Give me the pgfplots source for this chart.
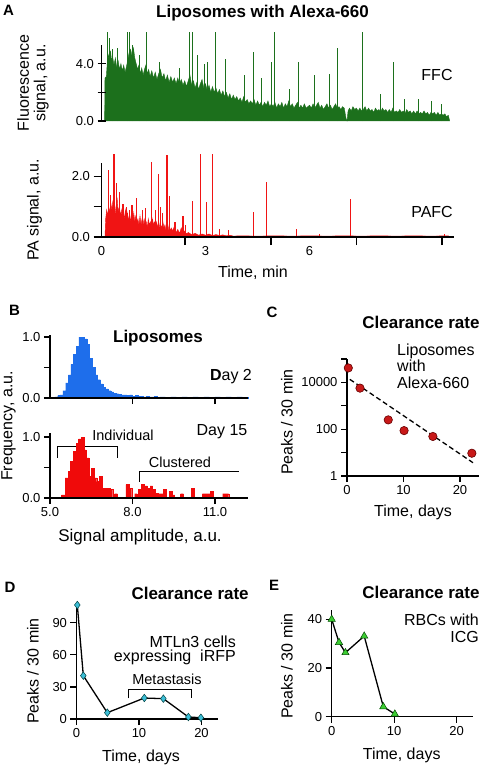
\documentclass[border=0pt]{standalone}
\usepackage{fontspec}
\setmainfont{Liberation Sans}
\usepackage{pgfplots}
\pgfplotsset{compat=1.18}
\definecolor{ffc}{RGB}{28,112,28}
\definecolor{pafc}{RGB}{240,20,20}
\definecolor{hblue}{RGB}{30,110,235}
\definecolor{hred}{RGB}{240,10,10}
\definecolor{cred}{RGB}{200,25,25}
\definecolor{dcyan}{RGB}{60,190,215}
\definecolor{egreen}{RGB}{60,205,50}
\newcommand\fT{\fontsize{13}{15}\selectfont}
\newcommand\fL{\fontsize{16}{18}\selectfont}
\newcommand\fS{\fontsize{14.5}{16}\selectfont}
\newcommand\fB{\fontsize{17}{19}\selectfont\bfseries}
\newcommand\fP{\fontsize{15}{17}\selectfont\bfseries}
\pgfplotsset{base/.style={scale only axis, anchor=south west, axis lines=left,
  axis line style={-, line width=1.4pt, black}, tick style={line width=1.3pt, black},
  tick align=outside, major tick length=6pt, tick label style={font=\fT},
  /pgf/number format/assume math mode=true, enlargelimits=false, clip=false,
  axis on top, minor tick num=0}}
\begin{document}
\begin{tikzpicture}[x=1pt,y=1pt]
\useasboundingbox (0,0) rectangle (480,-766);
% ---------------- Panel A: FFC
\begin{axis}[base, at={(101.5pt,-121pt)}, width=352pt, height=76pt,
  xmin=0, xmax=10.15, ymin=0, ymax=5.3, axis x line=none, axis y line=left,
  y axis line style={-}, every outer y axis line/.append style={-},
  ytick={0,2,4}, yticklabels={0.0,,4.0}, major tick length=8pt]
\addplot[fill=ffc, draw=ffc, line width=0.4pt] coordinates {
(0.09,0) (0.10,3.0) (0.14,3.1) (0.17,4.2) (0.20,4.6) (0.23,4.0) (0.26,4.9) (0.29,4.2) (0.32,4.5) (0.36,3.9)
(0.40,4.4) (0.44,3.7) (0.48,4.2) (0.52,3.6) (0.56,4.0) (0.60,3.5) (0.64,3.9) (0.68,3.4) (0.72,3.8) (0.76,4.3)
(0.80,4.8) (0.84,5.0) (0.88,4.5) (0.92,5.1) (0.96,4.4) (1.00,4.0) (1.04,3.6) (1.08,3.9) (1.12,3.3) (1.16,3.7)
(1.20,3.2) (1.24,3.6) (1.28,3.9) (1.32,3.3) (1.36,3.6) (1.40,3.1) (1.45,3.5) (1.50,3.0) (1.55,3.4) (1.60,2.9)
(1.65,3.3) (1.70,3.6) (1.75,3.0) (1.80,3.3) (1.85,2.8) (1.90,3.2) (1.95,2.7) (2.00,3.1) (2.05,2.7) (2.10,3.0)
(2.15,2.6) (2.20,3.0) (2.25,2.6) (2.30,2.9) (2.35,2.5) (2.40,2.8) (2.45,2.4) (2.50,2.8) (2.55,3.2) (2.60,2.5)
(2.65,2.8) (2.70,2.3) (2.75,2.7) (2.80,2.2) (2.85,2.6) (2.90,2.9) (2.95,2.3) (3.00,2.6) (3.05,2.1) (3.10,2.5)
(3.15,2.0) (3.20,2.4) (3.25,2.0) (3.30,2.3) (3.35,1.9) (3.40,2.2) (3.45,1.8) (3.50,2.1) (3.55,1.7) (3.60,2.0)
(3.65,1.6) (3.70,1.9) (3.75,1.5) (3.80,1.8) (3.85,1.5) (3.90,1.7) (3.95,1.4) (4.00,1.6) (4.05,1.3) (4.10,1.7)
(4.15,1.3) (4.20,1.5) (4.25,1.2) (4.30,1.4) (4.35,1.2) (4.40,1.5) (4.45,1.1) (4.50,1.4) (4.55,1.1) (4.60,1.3)
(4.65,1.0) (4.70,1.3) (4.75,1.1) (4.80,1.4) (4.85,1.0) (4.90,1.2) (4.95,1.0) (5.00,1.3) (5.05,0.9) (5.10,1.2)
(5.15,1.0) (5.20,1.3) (5.25,0.9) (5.30,1.2) (5.35,1.0) (5.40,1.4) (5.45,1.0) (5.50,1.2) (5.55,0.9) (5.60,1.1)
(5.65,1.3) (5.70,0.9) (5.75,1.1) (5.80,0.9) (5.85,1.2) (5.90,0.9) (5.95,1.0) (6.00,1.1) (6.05,0.9) (6.10,1.2)
(6.15,0.9) (6.20,1.1) (6.25,1.3) (6.30,0.9) (6.35,1.1) (6.40,0.8) (6.45,1.0) (6.50,1.2) (6.55,0.9) (6.60,1.1)
(6.65,0.8) (6.70,1.0) (6.75,1.2) (6.80,0.9) (6.85,1.0) (6.90,0.8) (6.95,1.0) (7.00,0.9) (7.05,0.2) (7.08,0.0)
(7.11,0.7) (7.15,0.9) (7.20,0.7) (7.25,1.0) (7.30,0.8) (7.35,0.9) (7.40,0.7) (7.45,0.9) (7.50,0.7) (7.55,0.8)
(7.60,1.0) (7.65,0.7) (7.70,0.9) (7.75,0.7) (7.80,0.8) (7.85,0.6) (7.90,0.9) (7.95,0.7) (8.00,0.8) (8.05,0.6)
(8.10,0.9) (8.15,0.7) (8.20,0.8) (8.25,0.6) (8.30,0.8) (8.35,0.6) (8.40,0.9) (8.45,0.6) (8.50,0.7) (8.55,0.6)
(8.60,0.8) (8.65,0.6) (8.70,0.7) (8.75,0.5) (8.80,0.8) (8.85,0.6) (8.90,0.7) (8.95,0.5) (9.00,0.7) (9.05,0.5)
(9.10,0.7) (9.15,0.5) (9.20,0.6) (9.25,0.5) (9.30,0.7) (9.35,0.5) (9.40,0.6) (9.45,0.4) (9.50,0.6) (9.55,0.5)
(9.60,0.6) (9.65,0.4) (9.70,0.6) (9.75,0.4) (9.80,0.5) (9.85,0.4) (9.90,0.5) (9.95,0.3) (10.00,0.4) (10.04,0)};
\addplot[ycomb, ffc, line width=1.1pt] coordinates {
(0.17,6.2) (0.23,5.8) (0.32,5.0) (0.46,5.1) (0.75,6.2) (0.81,6.2) (0.89,5.3) (1.10,4.6) (1.30,6.2)
(1.67,4.1) (2.25,3.7) (2.54,6.2) (2.62,6.2) (2.77,4.6) (2.97,4.0) (3.06,4.1) (3.29,6.2) (3.58,4.3)
(4.12,3.2) (4.38,4.8) (4.61,3.0) (4.90,4.1) (4.99,6.2) (5.42,2.2) (5.68,4.1) (6.14,3.2) (6.58,3.3)
(6.81,5.1) (7.53,6.2) (8.05,1.9) (8.42,4.1) (8.74,1.5) (9.14,1.5) (9.52,1.4) (9.81,1.2)};
\end{axis}
% ---------------- Panel A: PAFC
\begin{axis}[base, at={(101.5pt,-237pt)}, width=352pt, height=74pt,
  xmin=0, xmax=10.15, ymin=0, ymax=2.44, ytick={0,1,2}, yticklabels={0.0,,2.0},
  xtick={2.41,4.89,7.35,9.82}, xticklabels={,,,}, major tick length=8pt,
  extra x ticks={0,3,6}, extra x tick labels={0,3,6},
  extra x tick style={major tick length=0pt, xticklabel style={yshift=-6pt}}]
\addplot[fill=pafc, draw=pafc, line width=0.4pt] coordinates {
(0.10,0) (0.12,0.6) (0.15,0.9) (0.18,0.7) (0.21,1.0) (0.24,0.8) (0.27,1.1) (0.30,0.9) (0.33,1.2) (0.36,0.8)
(0.39,1.0) (0.42,0.7) (0.45,1.3) (0.48,0.8) (0.51,1.0) (0.54,0.7) (0.57,0.9) (0.60,0.6) (0.63,0.8) (0.66,0.6)
(0.69,0.9) (0.72,0.6) (0.75,0.8) (0.78,0.5) (0.81,0.8) (0.84,0.5) (0.87,0.7) (0.90,0.5) (0.93,0.8) (0.96,0.5)
(0.99,0.7) (1.02,0.5) (1.05,0.6) (1.08,0.4) (1.11,0.7) (1.14,0.4) (1.17,0.6) (1.20,0.4) (1.23,0.6) (1.26,0.4)
(1.29,0.5) (1.32,0.3) (1.35,0.6) (1.38,0.4) (1.41,0.5) (1.44,0.3) (1.47,0.6) (1.50,0.4) (1.53,0.5) (1.56,0.3)
(1.59,0.5) (1.62,0.3) (1.65,0.5) (1.68,0.3) (1.71,0.4) (1.74,0.3) (1.77,0.5) (1.80,0.3) (1.83,0.4) (1.86,0.2)
(1.89,0.4) (1.92,0.2) (1.95,0.4) (1.98,0.2) (2.01,0.3) (2.05,0.2) (2.10,0.35) (2.15,0.15) (2.20,0.25) (2.25,0.12)
(2.30,0.3) (2.35,0.12) (2.40,0.2) (2.45,0.1) (2.50,0.15) (2.60,0.08) (2.70,0.12) (2.80,0.06) (2.90,0.1) (3.00,0.06)
(3.10,0.1) (3.20,0.05) (3.30,0.08) (3.40,0.05) (3.50,0.07) (3.60,0.04) (3.70,0.06) (3.80,0.03) (4.00,0.04) (4.50,0.03)
(5.00,0.04) (5.50,0.03) (6.00,0.04) (6.50,0.03) (7.00,0.04) (7.50,0.03) (8.00,0.04) (8.50,0.03) (9.00,0.04) (9.50,0.03)
(10.00,0.04) (10.04,0)};
\addplot[ycomb, pafc, line width=1.1pt] coordinates {
(0.19,2.22) (0.26,1.4) (0.36,2.74) (0.42,1.78) (0.53,1.5) (0.62,1.1) (0.71,1.0) (0.80,0.9) (0.88,1.05)
(1.02,1.29) (1.17,0.9) (1.26,0.95) (1.45,2.46) (1.55,0.9) (1.64,2.08) (1.70,1.0) (1.75,0.8) (1.89,2.71)
(1.96,1.34) (2.12,0.48) (2.35,0.7) (2.41,0.4) (2.63,1.18) (2.86,2.74) (3.02,1.14) (3.21,2.74) (3.40,0.26)
(3.67,0.24) (4.39,0.81) (4.75,1.8) (5.62,0.26) (6.29,0.1) (7.18,1.26) (9.89,0.1)};
\end{axis}
\node[font=\fP] at (8.5,-10) {A};
\node[font=\fB] at (262.5,-13) {Liposomes with Alexa-660};
\node[font=\fontsize{16}{16.5}\selectfont, rotate=90, align=center] at (33,-83) {Fluorescence\\signal, a.u.};
\node[font=\fL] at (437,-75) {FFC};
\node[font=\fL, rotate=90] at (34.5,-210) {PA signal, a.u.};
\node[font=\fL] at (432,-212) {PAFC};
\node[font=\fL] at (253,-273) {Time, min};
% ---------------- Panel B top
\begin{axis}[base, at={(50pt,-398pt)}, width=198pt, height=63pt,
  xmin=5, xmax=12.2, ymin=0, ymax=1.033, ytick={0,0.5,1}, yticklabels={0.0,,1.0},
  xtick={8,11}, xticklabels={,}]
\addplot[const plot, fill=hblue, draw=hblue, line width=0.3pt] coordinates {
(5.18,0.02) (5.28,0.04) (5.37,0.05) (5.47,0.12) (5.57,0.25) (5.67,0.38) (5.76,0.55) (5.86,0.72) (5.96,0.85)
(6.05,1.0) (6.15,1.0) (6.25,0.97) (6.34,0.88) (6.44,0.65) (6.54,0.50) (6.63,0.38) (6.73,0.30) (6.83,0.23)
(6.92,0.18) (7.02,0.15) (7.12,0.12) (7.21,0.10) (7.31,0.08) (7.41,0.07) (7.50,0.06) (7.60,0.05) (7.70,0.05)
(7.80,0.04) (7.90,0.05) (8.00,0.03) (8.10,0.04) (8.20,0.03) (8.30,0.03) (8.40,0.02) (8.50,0.03) (8.60,0.02)
(8.70,0.02) (8.80,0.03) (8.90,0.01) (9.00,0.02) (9.20,0.01) (9.40,0.02) (9.60,0.01) (9.80,0.02) (10.00,0.01)
(10.20,0.02) (10.40,0.01) (10.60,0.02) (10.80,0.01) (11.00,0.02) (11.20,0.01) (11.40,0.02) (11.60,0.01)
(11.80,0.02) (12.00,0.01) (12.20,0)} \closedcycle;
\end{axis}
% ---------------- Panel B bottom
\begin{axis}[base, at={(50pt,-498pt)}, width=198pt, height=65pt,
  xmin=5, xmax=12.2, ymin=0, ymax=1.066, ytick={0,0.5,1}, yticklabels={0.0,,1.0},
  xtick={5,8,11}, xticklabels={5.0,8.0,11.0}]
\draw[line width=1.3pt] (axis cs:5.27,0.66) -- (axis cs:5.27,0.84) -- (axis cs:7.45,0.84) -- (axis cs:7.45,0.66);
\draw[line width=1.3pt] (axis cs:8.25,0.27) -- (axis cs:8.25,0.43) -- (axis cs:11.88,0.43);
\addplot[const plot, fill=hred, draw=hred, line width=0.3pt] coordinates {
(5.42,0.05) (5.55,0.33) (5.67,0.44) (5.75,0.6) (5.85,0.77) (5.95,0.9) (6.04,0.97) (6.14,1.0) (6.24,0.79)
(6.31,0.66) (6.41,0.36) (6.50,0.49) (6.60,0.33) (6.70,0.27) (6.79,0.36) (6.89,0.16) (7.18,0.14) (7.28,0)
(7.35,0.07) (7.45,0) (7.76,0.22) (7.88,0.16) (7.97,0) (8.08,0.07) (8.17,0) (8.22,0.14) (8.32,0.22)
(8.44,0.2) (8.54,0.16) (8.64,0.2) (8.73,0.14) (8.83,0.08) (8.93,0.07) (9.12,0.14) (9.24,0) (9.34,0.11)
(9.44,0.05) (9.53,0) (9.75,0.07) (9.85,0) (10.15,0.16) (10.25,0) (10.54,0.07) (10.82,0.11) (10.92,0)
(11.28,0.07) (11.50,0)} \closedcycle;
\end{axis}
\node[font=\fP] at (14.5,-310) {B};
\node[font=\fB] at (158,-338) {Liposomes};
\node[font=\fL] at (231,-377) {\textbf{D}ay 2};
\node[font=\fL, rotate=90] at (8.5,-426) {Frequency, a.u.};
\node[font=\fL] at (222,-432) {Day 15};
\node[font=\fS] at (123,-435) {Individual};
\node[font=\fS] at (180,-462) {Clustered};
\node[font=\fontsize{17}{19}\selectfont] at (140,-537) {Signal amplitude, a.u.};
% ---------------- Panel C
\begin{axis}[base, at={(347pt,-476pt)}, width=132.2pt, height=117pt,
  xmin=0, xmax=23.4, ymode=log, ymin=1, ymax=100000,
  ytick={1,10,100,1000,10000,100000}, yticklabels={1,,100,,10000,}, yminorticks=false,
  xtick={0,10,20}, xticklabels={0,10,20}]
\addplot[black, line width=1.3pt, dash pattern=on 5pt off 3pt] coordinates {(0.5,13500) (22.3,3.7)};
\addplot[only marks, mark=*, mark size=4.2pt, mark options={fill=cred, draw=red!40!black, line width=0.6pt}]
  coordinates {(0.23,41500) (2.3,5700) (7.3,250) (10.1,87) (15.2,49) (22.1,9.4)};
\end{axis}
\node[font=\fP] at (272,-312) {C};
\node[font=\fB] at (421,-322) {Clearance rate};
\node[font=\fL, anchor=base west, inner sep=0pt] at (397,-355) {Liposomes};
\node[font=\fL, anchor=base west, inner sep=0pt] at (397,-371.5) {with};
\node[font=\fL, anchor=base west, inner sep=0pt] at (397,-388) {Alexa-660};
\node[font=\fL, rotate=90] at (287,-422) {Peaks / 30 min};
\node[font=\fL] at (413,-512) {Time, days};
% ---------------- Panel D
\begin{axis}[base, at={(76.5pt,-719pt)}, width=141.25pt, height=115.6pt,
  xmin=0, xmax=22.6, ymin=0, ymax=108, ytick={0,30,60,90}, xtick={0,10,20}]
\draw[line width=1.3pt] (axis cs:8.29,19.3) -- (axis cs:8.29,27.8) -- (axis cs:18.43,27.8) -- (axis cs:18.43,19.3);
\addplot[black, line width=1.3pt, mark=diamond*, mark size=3.8pt, mark options={fill=dcyan, draw=teal!50!black, line width=0.5pt}]
  coordinates {(0.13,106.5) (1.09,40.5) (4.93,5.9) (10.85,19.6) (13.9,19) (17.9,1.9) (19.9,1.2)};
\end{axis}
\node[font=\fP] at (10,-587) {D};
\node[font=\fB, anchor=west] at (128,-593) {Clearance rate};
\node[font=\fL, anchor=base east, inner sep=0pt] at (236,-647) {MTLn3 cells};
\node[font=\fL, anchor=base east, inner sep=0pt] at (236,-661.5) {expressing\ \ iRFP};
\node[font=\fS] at (167,-679) {Metastasis};
\node[font=\fL, rotate=90] at (33,-671) {Peaks / 30 min};
\node[font=\fL] at (141,-757) {Time, days};
% ---------------- Panel E
\begin{axis}[base, at={(331.7pt,-716.7pt)}, width=141.25pt, height=106.7pt,
  xmin=0, xmax=22.6, ymin=0, ymax=43.8, ytick={0,20,40}, xtick={0,10,20}]
\addplot[black, line width=1.3pt, mark=triangle*, mark size=4.2pt, mark options={fill=egreen, draw=green!30!black, line width=0.5pt}]
  coordinates {(0,40) (1.17,30.5) (2.2,26.3) (5.2,33.1) (8.26,4.1) (10.1,1.1)};
\end{axis}
\node[font=\fP] at (274,-585) {E};
\node[font=\fB] at (421,-592) {Clearance rate};
\node[font=\fL, anchor=base east, inner sep=0pt] at (479,-625) {RBCs with};
\node[font=\fL, anchor=base east, inner sep=0pt] at (479,-642) {ICG};
\node[font=\fL, rotate=90] at (287,-666) {Peaks / 30 min};
\node[font=\fL] at (401.7,-755) {Time, days};
\end{tikzpicture}
\end{document}
